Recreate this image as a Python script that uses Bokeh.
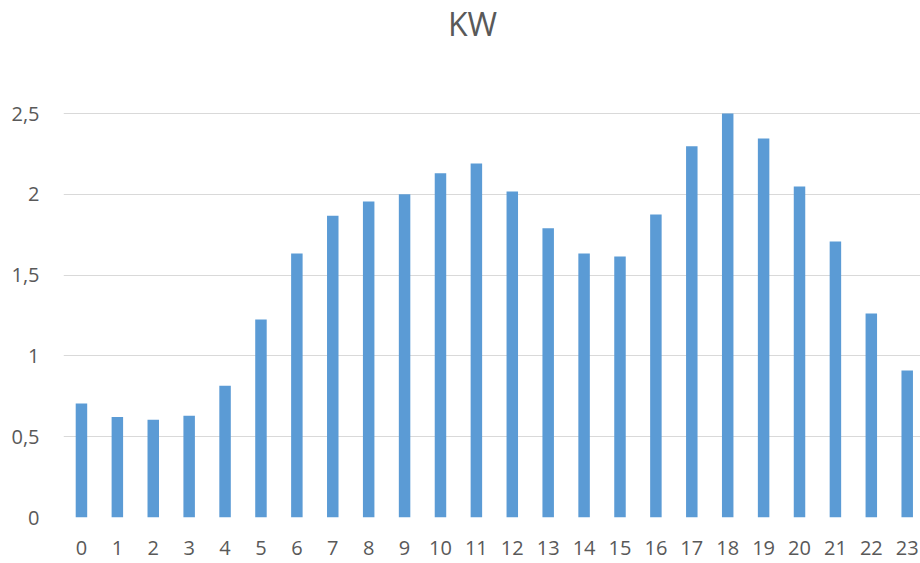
from bokeh.plotting import figure
from bokeh.models import Range1d, FixedTicker, ColumnDataSource, Label
from bokeh.embed import file_html
from bokeh.resources import INLINE

hours = list(range(24))
kw = [0.705, 0.622, 0.605, 0.63, 0.815, 1.225, 1.634, 1.868, 1.955, 2.0,
      2.13, 2.19, 2.018, 1.79, 1.634, 1.615, 1.875, 2.297, 2.5, 2.345,
      2.048, 1.708, 1.263, 0.91]
y_ticks = [0, 0.5, 1, 1.5, 2, 2.5]
y_tick_labels = ["0", "0,5", "1", "1,5", "2", "2,5"]
title_text = "KW"

FONT = "Open Sans"
GREY = "#595959"
W, H = 920, 563
LEFT, BOTTOM = 63, 46
PLOT_TOP = 113          # pixel row of the top gridline (value y_ticks[-1])
FRAME_H = H - BOTTOM    # frame spans the whole height above the x axis
y_end = y_ticks[-1] * FRAME_H / (FRAME_H - PLOT_TOP)

p = figure(width=W, height=H, output_backend="svg", toolbar_location=None,
           x_range=Range1d(-0.5, 23.37), y_range=Range1d(0, y_end),
           min_border_left=LEFT, min_border_right=0,
           min_border_top=0, min_border_bottom=BOTTOM)

src = ColumnDataSource(dict(x=hours, top=kw))
p.vbar(x="x", top="top", width=0.32, bottom=0, source=src,
       fill_color="#5B9BD5", line_color=None)

p.outline_line_color = None
p.background_fill_color = "white"
p.border_fill_color = "white"

# screen units: measured from the frame's bottom-left corner, y upwards
title = Label(x=472 - LEFT, y=FRAME_H - 23, x_units="screen", y_units="screen",
              text=title_text, text_font=FONT, text_font_size="32px",
              text_color=GREY, text_align="center", text_baseline="middle")
p.add_layout(title)

p.xgrid.grid_line_color = None
p.ygrid.grid_line_color = "#D9D9D9"
p.ygrid.grid_line_width = 1.2

p.yaxis.ticker = FixedTicker(ticks=y_ticks)
p.yaxis.major_label_overrides = {t: l for t, l in zip(y_ticks, y_tick_labels)}
p.xaxis.ticker = FixedTicker(ticks=hours)

for ax in (p.xaxis, p.yaxis):
    ax.axis_line_color = None
    ax.major_tick_line_color = None
    ax.minor_tick_line_color = None
    ax.major_tick_out = 0
    ax.major_tick_in = 0
    ax.major_label_text_font = FONT
    ax.major_label_text_font_size = "20px"
    ax.major_label_text_color = GREY

p.yaxis.major_label_standoff = 24
p.xaxis.major_label_standoff = 23

open("out.html", "w").write(file_html(p, INLINE))
